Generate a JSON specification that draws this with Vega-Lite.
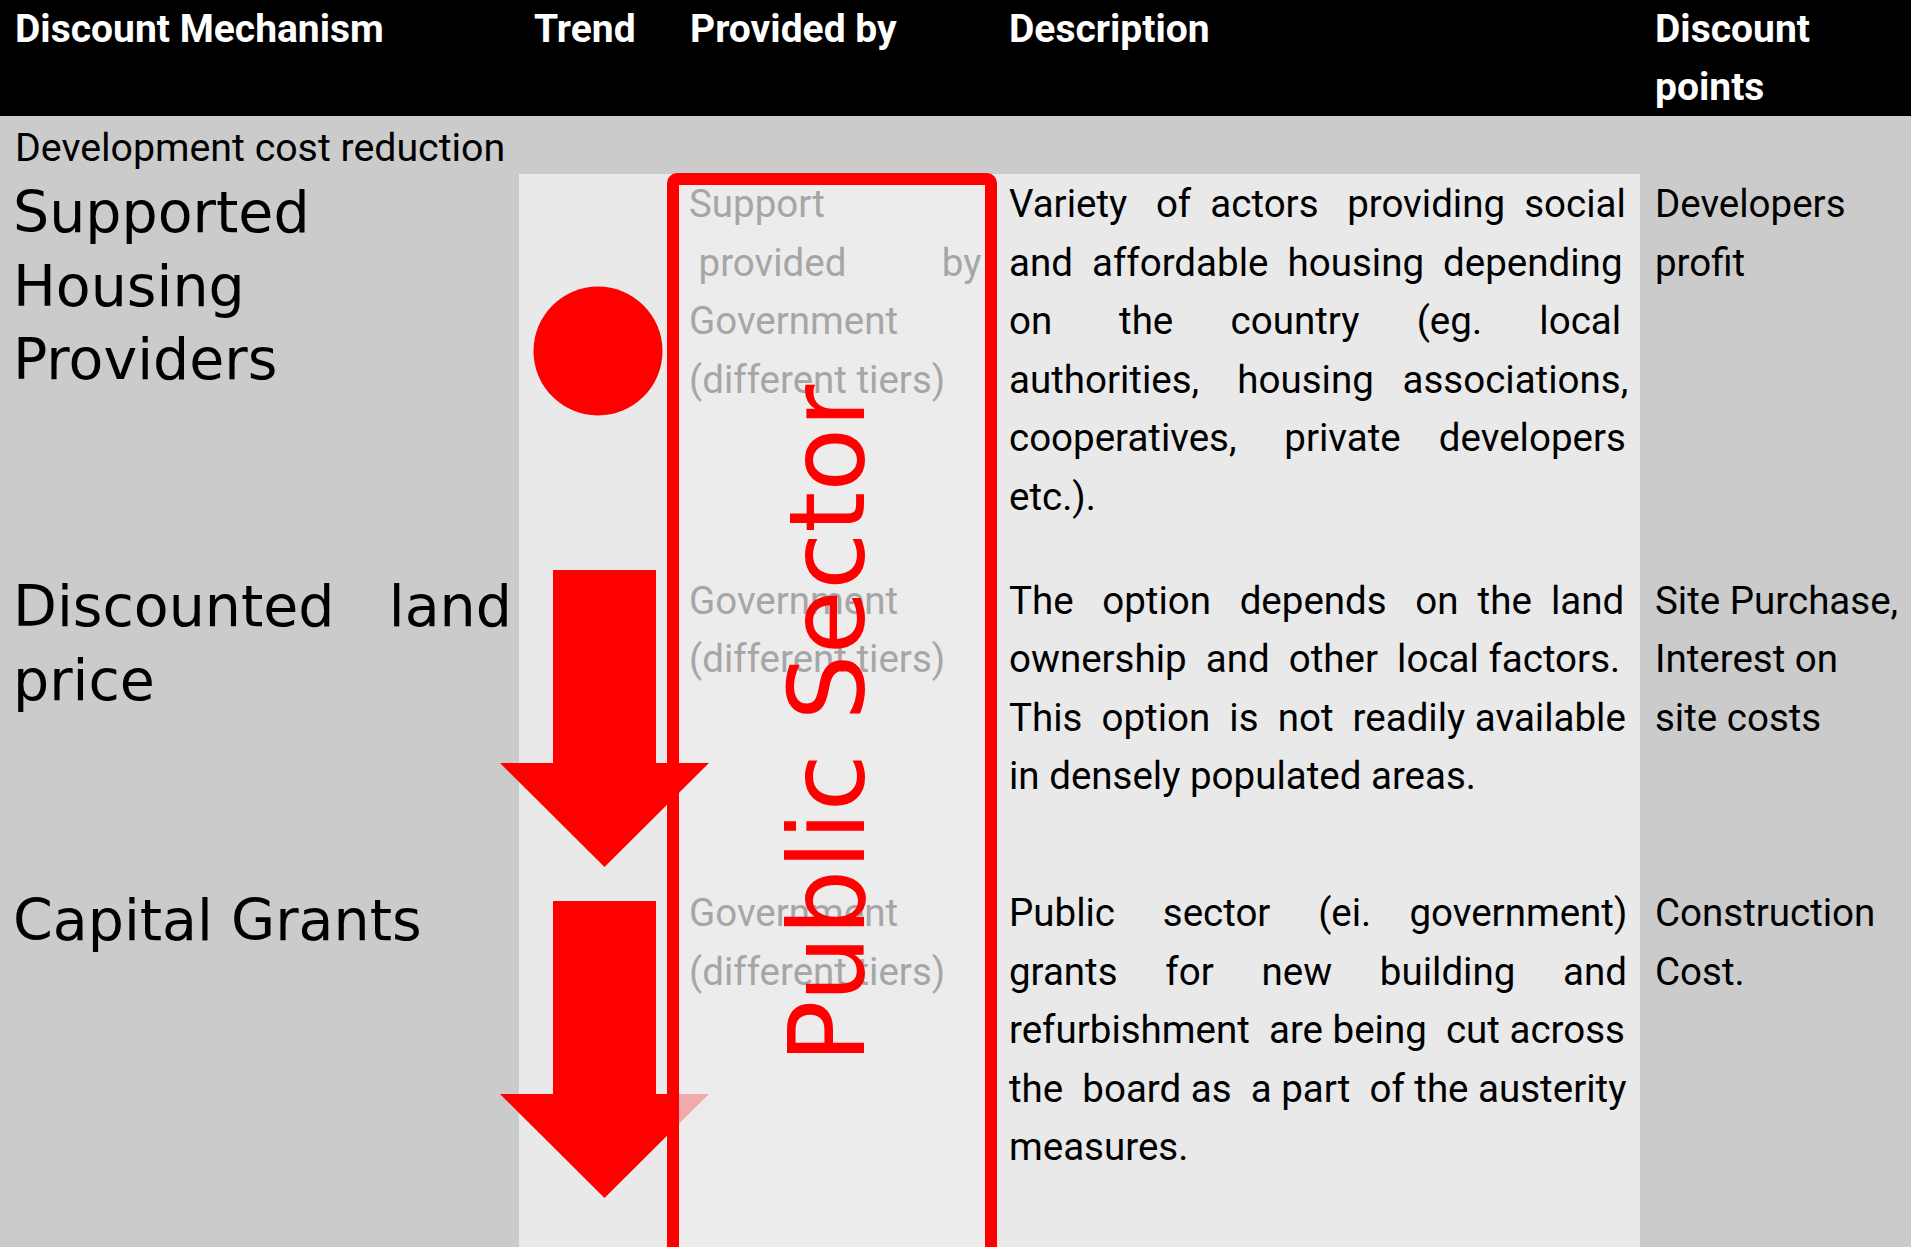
{
"$schema":"https://vega.github.io/schema/vega-lite/v6.json",
"width":1911,"height":1247,"padding":0,"autosize":{"type":"none"},
"background":"#cbcbcb",
"config":{"view":{"stroke":null}},
"datasets":{
 "bands":[{"kind":"header","x1":0,"x2":1911,"y1":0,"y2":116},{"kind":"panel","x1":519,"x2":1640,"y1":174,"y2":1247}],
 "box":[{"group":"Public Sector","x1":673,"x2":991,"y1":179,"y2":1253}],
 "trend":[
  {"mechanism":"Supported Housing Providers","trend":"steady","x":598,"y":351},
  {"mechanism":"Discounted land price","trend":"decrease","x":604.5,"y":718.5},
  {"mechanism":"Capital Grants","trend":"decrease","x":604.5,"y":1049.5}
 ],
 "sector":[{"label":"Public Sector","x":864,"y":724}],
 "texts":[
  {"style":"header","x":15,"y":11,"text":"Discount Mechanism"},
  {"style":"header","x":534,"y":11,"text":"Trend"},
  {"style":"header","x":690,"y":11,"text":"Provided by"},
  {"style":"header","x":1009,"y":11,"text":"Description"},
  {"style":"header","x":1655,"y":11,"text":"Discount\npoints"},
  {"style":"section","x":15,"y":130,"text":"Development cost reduction"},
  {"style":"name","x":13,"y":187,"text":"Supported\nHousing\nProviders"},
  {"style":"name","x":13,"y":581,"text":"Discounted \u00a0\u00a0land\nprice"},
  {"style":"name","x":13,"y":895,"text":"Capital Grants"},
  {"style":"provider","x":689,"y":187,"text":"Support\n\u200b\u00a0provided \u00a0\u00a0\u00a0\u00a0\u00a0\u00a0\u00a0\u00a0\u00a0by\nGovernment\n(different tiers)"},
  {"style":"provider","x":689,"y":583.5,"text":"Government\n(different tiers)"},
  {"style":"provider","x":689,"y":896,"text":"Government\n(different tiers)"},
  {"style":"body","x":1009,"y":187,"text":"Variety \u00a0\u00a0of \u00a0actors \u00a0\u00a0providing \u00a0social\nand \u00a0affordable \u00a0housing \u00a0depending\non \u00a0\u00a0\u00a0\u00a0\u00a0\u00a0the \u00a0\u00a0\u00a0\u00a0\u00a0country \u00a0\u00a0\u00a0\u00a0\u00a0(eg. \u00a0\u00a0\u00a0\u00a0\u00a0local\nauthorities, \u00a0\u00a0\u00a0housing \u00a0\u00a0associations,\ncooperatives, \u00a0\u00a0\u00a0\u00a0private \u00a0\u00a0\u00a0developers\netc.)."},
  {"style":"body","x":1009,"y":583.5,"text":"The \u00a0\u00a0option \u00a0\u00a0depends \u00a0\u00a0on \u00a0the \u00a0land\nownership \u00a0and \u00a0other \u00a0local factors.\nThis \u00a0option \u00a0is \u00a0not \u00a0readily available\nin densely populated areas."},
  {"style":"body","x":1009,"y":896,"text":"Public \u00a0\u00a0\u00a0\u00a0sector \u00a0\u00a0\u00a0\u00a0(ei. \u00a0\u00a0\u00a0government)\ngrants \u00a0\u00a0\u00a0\u00a0for \u00a0\u00a0\u00a0\u00a0new \u00a0\u00a0\u00a0\u00a0building \u00a0\u00a0\u00a0\u00a0and\nrefurbishment \u00a0are being \u00a0cut across\nthe \u00a0board as \u00a0a part \u00a0of the austerity\nmeasures."},
  {"style":"body","x":1655,"y":187,"text":"Developers\nprofit"},
  {"style":"body","x":1655,"y":583.5,"text":"Site Purchase,\nInterest on\nsite costs"},
  {"style":"body","x":1655,"y":896,"text":"Construction\nCost."}
 ]
},
"layer":[
 {"data":{"name":"bands"},
  "mark":{"type":"rect"},
  "encoding":{
   "x":{"field":"x1","type":"quantitative","scale":{"domain":[0,1911],"nice":false,"zero":false},"axis":null},
   "x2":{"field":"x2"},
   "y":{"field":"y1","type":"quantitative","scale":{"domain":[0,1247],"reverse":true,"nice":false,"zero":false},"axis":null},
   "y2":{"field":"y2"},
   "color":{"field":"kind","type":"nominal","scale":{"domain":["header","panel"],"range":["#000000","#e9e9e9"]},"legend":null}
  }},
 {"data":{"name":"trend"},
  "transform":[{"filter":"datum.mechanism === 'Capital Grants'"}],
  "mark":{"type":"point","shape":"M-0.493,-1.421L0.493,-1.421L0.493,0.426L1,0.426L0,1.421L-1,0.426L-0.493,0.426Z","filled":true,"size":43681,"color":"#ff0000","opacity":1,"strokeWidth":0},
  "encoding":{
   "x":{"field":"x","type":"quantitative","scale":{"domain":[0,1911],"nice":false,"zero":false},"axis":null},
   "y":{"field":"y","type":"quantitative","scale":{"domain":[0,1247],"reverse":true,"nice":false,"zero":false},"axis":null}
  }},
 {"data":{"name":"box"},
  "mark":{"type":"rect","color":"#ededed","opacity":0.72},
  "encoding":{
   "x":{"field":"x1","type":"quantitative","scale":{"domain":[0,1911],"nice":false,"zero":false},"axis":null},
   "x2":{"field":"x2"},
   "y":{"field":"y1","type":"quantitative","scale":{"domain":[0,1247],"reverse":true,"nice":false,"zero":false},"axis":null},
   "y2":{"field":"y2"}
  }},
 {"data":{"name":"trend"},
  "transform":[{"filter":"datum.mechanism === 'Discounted land price'"}],
  "mark":{"type":"point","shape":"M-0.493,-1.421L0.493,-1.421L0.493,0.426L1,0.426L0,1.421L-1,0.426L-0.493,0.426Z","filled":true,"size":43681,"color":"#ff0000","opacity":1,"strokeWidth":0},
  "encoding":{
   "x":{"field":"x","type":"quantitative","scale":{"domain":[0,1911],"nice":false,"zero":false},"axis":null},
   "y":{"field":"y","type":"quantitative","scale":{"domain":[0,1247],"reverse":true,"nice":false,"zero":false},"axis":null}
  }},
 {"data":{"name":"trend"},
  "transform":[{"filter":"datum.trend === 'steady'"}],
  "mark":{"type":"point","shape":"circle","filled":true,"size":16641,"color":"#ff0000","opacity":1,"strokeWidth":0},
  "encoding":{
   "x":{"field":"x","type":"quantitative","scale":{"domain":[0,1911],"nice":false,"zero":false},"axis":null},
   "y":{"field":"y","type":"quantitative","scale":{"domain":[0,1247],"reverse":true,"nice":false,"zero":false},"axis":null}
  }},
 {"data":{"name":"box"},
  "mark":{"type":"rect","filled":false,"stroke":"#ff0000","strokeWidth":12,"cornerRadius":4},
  "encoding":{
   "x":{"field":"x1","type":"quantitative","scale":{"domain":[0,1911],"nice":false,"zero":false},"axis":null},
   "x2":{"field":"x2"},
   "y":{"field":"y1","type":"quantitative","scale":{"domain":[0,1247],"reverse":true,"nice":false,"zero":false},"axis":null},
   "y2":{"field":"y2"}
  }},
 {"data":{"name":"texts"},
  "transform":[{"filter":"datum.style === 'header'"}],
  "mark":{"type":"text","font":"Roboto","fontWeight":"bold","fontSize":39,"color":"#ffffff","align":"left","baseline":"top","lineHeight":58,"lineBreak":"\n"},
  "encoding":{
   "x":{"field":"x","type":"quantitative","scale":{"domain":[0,1911],"nice":false,"zero":false},"axis":null},
   "y":{"field":"y","type":"quantitative","scale":{"domain":[0,1247],"reverse":true,"nice":false,"zero":false},"axis":null},
   "text":{"field":"text"}
  }},
 {"data":{"name":"texts"},
  "transform":[{"filter":"datum.style === 'section'"}],
  "mark":{"type":"text","font":"Roboto","fontSize":39.3,"color":"#000000","align":"left","baseline":"top"},
  "encoding":{
   "x":{"field":"x","type":"quantitative","scale":{"domain":[0,1911],"nice":false,"zero":false},"axis":null},
   "y":{"field":"y","type":"quantitative","scale":{"domain":[0,1247],"reverse":true,"nice":false,"zero":false},"axis":null},
   "text":{"field":"text"}
  }},
 {"data":{"name":"texts"},
  "transform":[{"filter":"datum.style === 'body'"}],
  "mark":{"type":"text","font":"Roboto","fontSize":38.5,"color":"#000000","align":"left","baseline":"top","lineHeight":58.6,"lineBreak":"\n"},
  "encoding":{
   "x":{"field":"x","type":"quantitative","scale":{"domain":[0,1911],"nice":false,"zero":false},"axis":null},
   "y":{"field":"y","type":"quantitative","scale":{"domain":[0,1247],"reverse":true,"nice":false,"zero":false},"axis":null},
   "text":{"field":"text"}
  }},
 {"data":{"name":"texts"},
  "transform":[{"filter":"datum.style === 'provider'"}],
  "mark":{"type":"text","font":"Roboto","fontSize":38.5,"color":"#a6a6a6","align":"left","baseline":"top","lineHeight":58.6,"lineBreak":"\n"},
  "encoding":{
   "x":{"field":"x","type":"quantitative","scale":{"domain":[0,1911],"nice":false,"zero":false},"axis":null},
   "y":{"field":"y","type":"quantitative","scale":{"domain":[0,1247],"reverse":true,"nice":false,"zero":false},"axis":null},
   "text":{"field":"text"}
  }},
 {"data":{"name":"texts"},
  "transform":[{"filter":"datum.style === 'name'"}],
  "mark":{"type":"text","font":"DejaVu Sans","fontSize":57,"color":"#000000","align":"left","baseline":"top","lineHeight":73.5,"lineBreak":"\n"},
  "encoding":{
   "x":{"field":"x","type":"quantitative","scale":{"domain":[0,1911],"nice":false,"zero":false},"axis":null},
   "y":{"field":"y","type":"quantitative","scale":{"domain":[0,1247],"reverse":true,"nice":false,"zero":false},"axis":null},
   "text":{"field":"text"}
  }},
 {"data":{"name":"sector"},
  "mark":{"type":"text","font":"DejaVu Sans","fontSize":104.5,"color":"#ff0000","angle":270,"align":"center","baseline":"alphabetic"},
  "encoding":{
   "x":{"field":"x","type":"quantitative","scale":{"domain":[0,1911],"nice":false,"zero":false},"axis":null},
   "y":{"field":"y","type":"quantitative","scale":{"domain":[0,1247],"reverse":true,"nice":false,"zero":false},"axis":null},
   "text":{"field":"label"}
  }}
]
}
